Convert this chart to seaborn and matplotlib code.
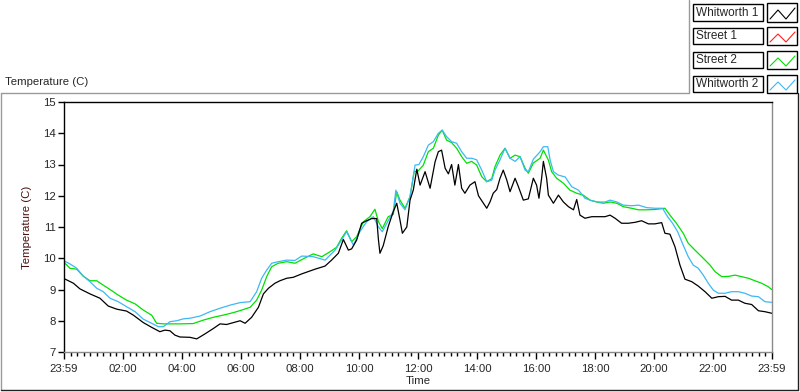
import numpy as np
import matplotlib
matplotlib.use("Agg")
import matplotlib.pyplot as plt
import seaborn as sns
from matplotlib.patches import Rectangle
from matplotlib.lines import Line2D
from matplotlib.ticker import MultipleLocator

sns.set_style("white")
plt.rcParams["font.family"] = ["Liberation Sans", "DejaVu Sans"]

# hours after 23:59
w1_hours = [0.00, 0.32, 0.54, 0.88, 1.22, 1.50, 1.79, 2.12, 2.35, 2.69, 2.97, 3.25, 3.42, 3.59,
            3.76, 3.93, 4.27, 4.50, 4.78, 5.06, 5.29, 5.51, 5.74, 5.97, 6.14, 6.36, 6.59, 6.76,
            6.93, 7.15, 7.32, 7.55, 7.77, 8.06, 8.30, 8.51, 8.85, 9.07, 9.30, 9.47, 9.64, 9.75,
            9.92, 10.09, 10.26, 10.43, 10.60, 10.66, 10.71, 10.82, 10.99, 11.16, 11.28, 11.39,
            11.47, 11.62, 11.73, 11.84, 11.96, 12.07, 12.24, 12.41, 12.58, 12.69, 12.80, 12.92,
            13.03, 13.14, 13.25, 13.37, 13.48, 13.59, 13.76, 13.93, 14.05, 14.22, 14.33, 14.44,
            14.55, 14.67, 14.78, 14.89, 15.01, 15.12, 15.29, 15.40, 15.57, 15.74, 15.91, 16.02,
            16.10, 16.19, 16.25, 16.36, 16.42, 16.59, 16.76, 16.93, 17.10, 17.27, 17.38, 17.49,
            17.66, 17.89, 18.11, 18.34, 18.51, 18.68, 18.90, 19.13, 19.36, 19.58, 19.81, 20.03,
            20.26, 20.37, 20.54, 20.71, 20.88, 21.05, 21.28, 21.50, 21.73, 21.96, 22.18, 22.41,
            22.63, 22.86, 23.08, 23.31, 23.54, 23.76, 23.99]
w1_temp = [9.35, 9.20, 9.02, 8.86, 8.72, 8.47, 8.37, 8.31, 8.18, 7.94, 7.79, 7.65, 7.70, 7.68,
           7.54, 7.48, 7.47, 7.42, 7.58, 7.75, 7.90, 7.88, 7.94, 8.00, 7.92, 8.11, 8.43, 8.86,
           9.04, 9.20, 9.28, 9.36, 9.39, 9.50, 9.58, 9.65, 9.75, 9.94, 10.16, 10.60, 10.26, 10.30,
           10.58, 11.12, 11.20, 11.27, 11.27, 10.58, 10.16, 10.40, 11.01, 11.49, 11.76, 11.22,
           10.80, 11.00, 11.86, 12.18, 12.85, 12.34, 12.77, 12.24, 13.09, 13.41, 13.46, 12.88,
           12.70, 13.00, 12.34, 13.00, 12.24, 12.08, 12.34, 12.45, 12.00, 11.76, 11.60, 11.80,
           12.08, 12.20, 12.56, 12.82, 12.50, 12.13, 12.56, 12.30, 11.86, 11.90, 12.56, 12.34,
           11.92, 12.56, 13.10, 12.56, 12.02, 11.76, 12.02, 11.80, 11.65, 11.55, 11.88, 11.38,
           11.28, 11.33, 11.33, 11.33, 11.38, 11.28, 11.12, 11.12, 11.15, 11.20, 11.10, 11.10,
           11.14, 10.80, 10.77, 10.37, 9.78, 9.33, 9.25, 9.11, 8.93, 8.72, 8.77, 8.78,
           8.66, 8.66, 8.56, 8.52, 8.32, 8.29, 8.24]

s2_hours = [0.00, 0.20, 0.43, 0.65, 0.88, 1.11, 1.33, 1.56, 1.84, 2.12, 2.41, 2.69, 2.97, 3.14,
            3.37, 3.71, 3.93, 4.38, 4.72, 5.06, 5.40, 5.74, 6.02, 6.31, 6.53, 6.70, 6.87, 7.04,
            7.26, 7.55, 7.83, 8.15, 8.45, 8.74, 9.02, 9.24, 9.41, 9.58, 9.75, 9.92, 10.15, 10.37,
            10.54, 10.66, 10.79, 10.99, 11.16, 11.28, 11.39, 11.56, 11.73, 11.87, 12.01, 12.18,
            12.35, 12.52, 12.69, 12.82, 12.97, 13.14, 13.31, 13.48, 13.65, 13.82, 13.99, 14.16,
            14.33, 14.50, 14.61, 14.78, 14.95, 15.12, 15.29, 15.46, 15.63, 15.74, 15.91, 16.14,
            16.25, 16.42, 16.53, 16.70, 16.93, 17.15, 17.38, 17.60, 17.83, 18.06, 18.28, 18.51,
            18.74, 18.96, 19.24, 19.47, 19.75, 20.03, 20.37, 20.54, 20.76, 20.99, 21.16, 21.39,
            21.67, 21.90, 22.07, 22.30, 22.52, 22.75, 22.97, 23.20, 23.42, 23.65, 23.87, 23.99]
s2_temp = [9.87, 9.68, 9.65, 9.43, 9.28, 9.28, 9.14, 9.00, 8.82, 8.66, 8.54, 8.34, 8.18, 7.92,
           7.90, 7.90, 7.90, 7.91, 8.02, 8.11, 8.18, 8.26, 8.34, 8.43, 8.66, 8.98, 9.41, 9.73,
           9.84, 9.89, 9.84, 10.00, 10.14, 10.05, 10.21, 10.35, 10.64, 10.88, 10.53, 10.69, 11.17, 11.33,
           11.57, 11.17, 10.95, 11.33, 11.40, 12.13, 11.86, 11.60, 11.97, 12.77, 12.80, 12.98,
           13.41, 13.52, 13.94, 14.10, 13.78, 13.70, 13.52, 13.25, 13.04, 13.10, 12.98, 12.61,
           12.45, 12.55, 12.93, 13.30, 13.52, 13.20, 13.30, 13.25, 12.88, 12.72, 13.05, 13.20,
           13.46, 13.14, 12.77, 12.56, 12.40, 12.18, 12.08, 12.02, 11.86, 11.80, 11.76, 11.80,
           11.76, 11.65, 11.60, 11.55, 11.55, 11.56, 11.60, 11.38, 11.12, 10.80, 10.48, 10.26,
           10.00, 9.78, 9.57, 9.41, 9.42, 9.46, 9.41, 9.36, 9.28, 9.20, 9.09, 9.00]

w2_hours = [0.00, 0.20, 0.43, 0.65, 0.88, 1.11, 1.33, 1.56, 1.84, 2.12, 2.41, 2.69, 2.97, 3.20,
            3.37, 3.59, 3.82, 4.04, 4.27, 4.61, 4.95, 5.29, 5.63, 5.97, 6.31, 6.53, 6.70, 6.87,
            7.04, 7.26, 7.55, 7.83, 8.06, 8.45, 8.85, 9.19, 9.41, 9.58, 9.81, 10.03, 10.26, 10.49,
            10.66, 10.79, 10.99, 11.16, 11.25, 11.39, 11.56, 11.73, 11.90, 12.03, 12.18, 12.35,
            12.52, 12.69, 12.82, 12.97, 13.14, 13.31, 13.48, 13.65, 13.82, 13.99, 14.16, 14.33,
            14.50, 14.61, 14.78, 14.95, 15.12, 15.29, 15.46, 15.63, 15.74, 15.91, 16.14, 16.25,
            16.40, 16.48, 16.59, 16.76, 16.99, 17.21, 17.44, 17.66, 17.89, 18.11, 18.34, 18.51,
            18.74, 18.96, 19.24, 19.47, 19.75, 20.03, 20.29, 20.46, 20.63, 20.80, 20.99, 21.16,
            21.33, 21.50, 21.67, 21.84, 22.01, 22.18, 22.41, 22.63, 22.86, 23.08, 23.31, 23.54,
            23.76, 23.99]
w2_temp = [9.92, 9.82, 9.68, 9.43, 9.25, 9.04, 8.93, 8.72, 8.61, 8.45, 8.29, 8.05, 7.92, 7.81,
           7.81, 7.97, 8.00, 8.06, 8.08, 8.15, 8.29, 8.40, 8.50, 8.58, 8.61, 8.93, 9.36, 9.62,
           9.84, 9.89, 9.94, 9.93, 10.07, 10.05, 9.94, 10.26, 10.58, 10.85, 10.42, 10.85, 11.17, 11.33,
           11.00, 10.85, 11.20, 11.50, 12.18, 11.76, 11.55, 11.97, 12.98, 13.00, 13.25, 13.62,
           13.73, 14.00, 14.10, 13.89, 13.73, 13.68, 13.41, 13.20, 13.20, 13.15, 12.82, 12.45,
           12.50, 12.82, 13.15, 13.52, 13.20, 13.10, 13.25, 12.82, 12.77, 13.17, 13.41, 13.57,
           13.57, 13.14, 12.77, 12.66, 12.60, 12.29, 12.18, 11.92, 11.84, 11.80, 11.80, 11.86,
           11.80, 11.70, 11.68, 11.70, 11.62, 11.60, 11.60, 11.33, 11.12, 10.85, 10.42, 10.05,
           9.78, 9.68, 9.46, 9.20, 8.98, 8.88, 8.88, 8.93, 8.93, 8.88, 8.79, 8.77,
           8.61, 8.59]

legend_names = ["Whitworth 1", "Street 1", "Street 2", "Whitworth 2"]
legend_colors = ["black", "#ff2020", "#00e000", "#3db8f5"]

tick_pos = [0, 2, 4, 6, 8, 10, 12, 14, 16, 18, 20, 22, 24]
tick_labels = ["23:59", "02:00", "04:00", "06:00", "08:00", "10:00", "12:00",
               "14:00", "16:00", "18:00", "20:00", "22:00", "23:59"]

W, H = 800, 392
FS = 8.2
fig = plt.figure(figsize=(8, 3.92), dpi=100)
fig.patch.set_facecolor("white")
ax = fig.add_axes([64 / W, (H - 352) / H, 708 / W, 250 / H])

sns.lineplot(x=w1_hours, y=w1_temp, color=legend_colors[0], lw=0.9, ax=ax, sort=False)
sns.lineplot(x=s2_hours, y=s2_temp, color=legend_colors[2], lw=0.9, ax=ax, sort=False)
sns.lineplot(x=w2_hours, y=w2_temp, color=legend_colors[3], lw=0.9, ax=ax, sort=False)
# keep black on top like the original
ax.lines[0].set_zorder(3)

ax.set_xlim(0, 24)
ax.set_ylim(7, 15)
ax.set_xticks(tick_pos)
ax.set_xticklabels(tick_labels, fontsize=FS)
ax.xaxis.set_minor_locator(MultipleLocator(2 / 9))
ax.set_yticks(range(7, 16))
ax.tick_params(axis="y", labelsize=FS, length=4, width=1, color="black", pad=2, left=True)
ax.tick_params(axis="x", which="major", length=5, width=1, color="black", pad=4, bottom=True)
ax.tick_params(axis="x", which="minor", length=3, width=1, color="black", bottom=True)
ax.set_xlabel("Time", fontsize=FS, labelpad=1)
ax.set_ylabel("Temperature (C)", fontsize=FS, color="#4a1010", labelpad=8)

for side in ["top", "left"]:
    ax.spines[side].set_color("black")
for side in ["bottom", "right"]:
    ax.spines[side].set_color("#8a8a8a")
for s in ax.spines.values():
    s.set_linewidth(1)
    s.set_visible(True)


def px(x, y):
    return x / W, 1 - y / H


# outer frame
fig.add_artist(Line2D([px(1, 0)[0], px(1, 0)[0]], [px(0, 93)[1], px(0, 390)[1]], color="#9a9a9a", lw=1))
fig.add_artist(Line2D([px(1, 0)[0], px(689, 0)[0]], [px(0, 93)[1], px(0, 93)[1]], color="#9a9a9a", lw=1))
fig.add_artist(Line2D([px(689, 0)[0], px(689, 0)[0]], [px(0, 0)[1], px(0, 93)[1]], color="#9a9a9a", lw=1))
fig.add_artist(Line2D([px(1, 0)[0], px(798, 0)[0]], [px(0, 390)[1], px(0, 390)[1]], color="#202020", lw=1))
fig.add_artist(Line2D([px(798, 0)[0], px(798, 0)[0]], [px(0, 93)[1], px(0, 390)[1]], color="#202020", lw=1))

fig.text(5 / W, 1 - 82 / H, "Temperature (C)", fontsize=FS, va="center", ha="left")

# legend in LabVIEW style
rows = [(4, 21), (28, 44), (52, 68), (76, 92)]
for name, col, (y0, y1) in zip(legend_names, legend_colors, rows):
    x0, yb = px(693, y1)
    fig.add_artist(Rectangle((x0, yb), 70 / W, (y1 - y0) / H, transform=fig.transFigure,
                             fill=True, fc="white", ec="black", lw=1))
    fig.text(696 / W, 1 - (y0 + y1) / 2 / H, name, fontsize=FS + 0.3, va="center", ha="left")
    sx, sy = px(767, y1 + 1)
    fig.add_artist(Rectangle((sx, sy), 30 / W, (y1 - y0 + 2) / H, transform=fig.transFigure,
                             fill=True, fc="white", ec="black", lw=1))
    zx = [770, 778, 786, 795]
    zy = [y1 - 2, y0 + 6, y1 - 2, y0 + 4]
    fig.add_artist(Line2D([x / W for x in zx], [1 - y / H for y in zy], color=col, lw=0.8))

plt.savefig("out.png", dpi=100, facecolor="white")
